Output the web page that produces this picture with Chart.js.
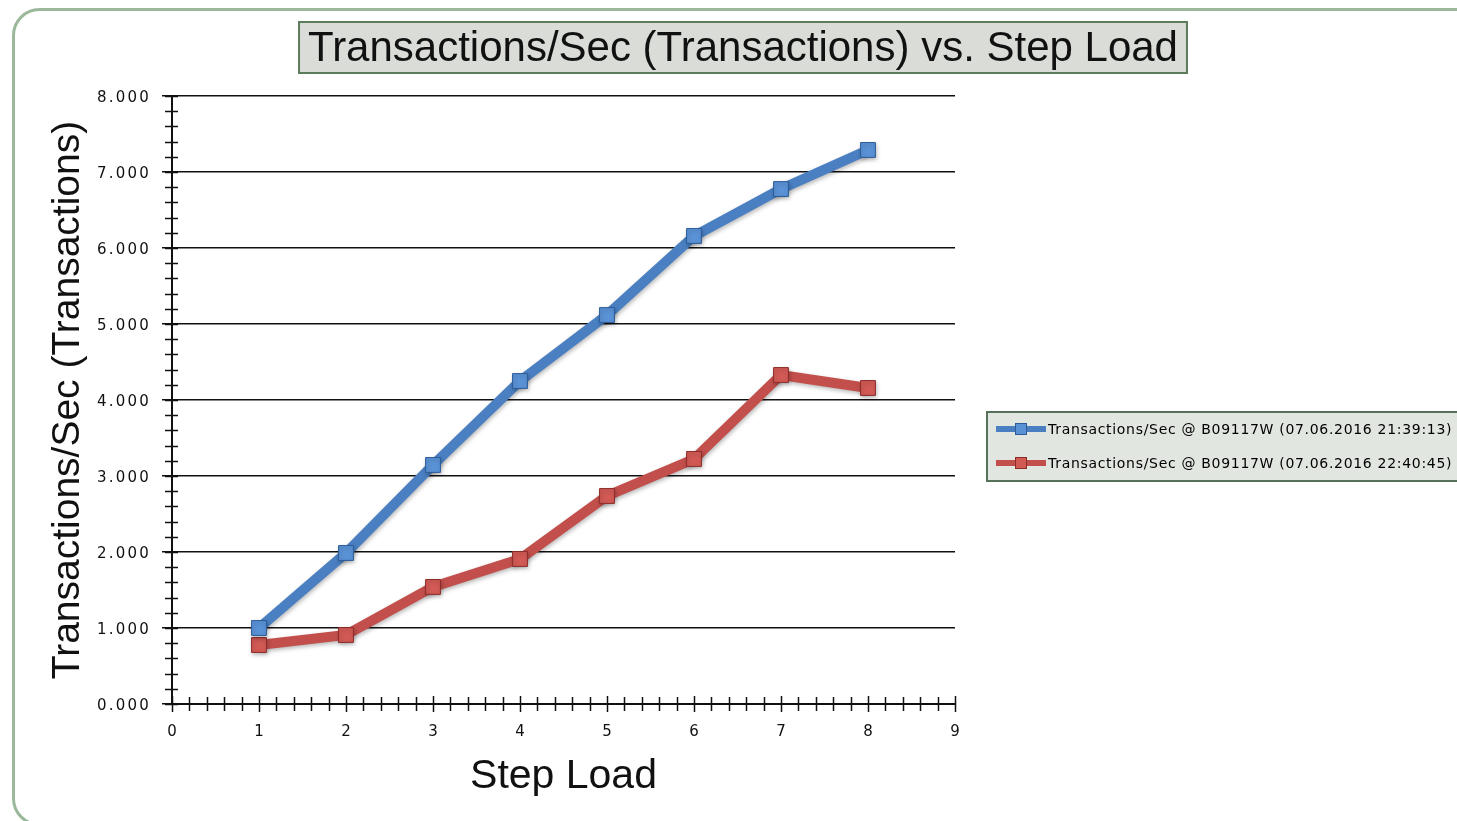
<!DOCTYPE html>
<html>
<head>
<meta charset="utf-8">
<title>Transactions/Sec vs. Step Load</title>
<script src="https://cdn.jsdelivr.net/npm/chart.js@4.4.1/dist/chart.umd.min.js"></script>
<style>
  html, body { margin: 0; padding: 0; background: #fff; overflow: hidden; }
  #wrap { width: 1457px; height: 821px; }
</style>
</head>
<body>
<div id="wrap"><canvas id="plots" width="1457" height="821"></canvas></div>
<script>
// values
const stepLoad = [1, 2, 3, 4, 5, 6, 7, 8]
const run1 = [1.000, 1.987, 3.145, 4.250, 5.118, 6.158, 6.776, 7.290]
const run2 = [0.776, 0.908, 1.540, 1.908, 2.737, 3.224, 4.329, 4.158]
const seriesNames = [
  'Transactions/Sec @ B09117W (07.06.2016 21:39:13)',
  'Transactions/Sec @ B09117W (07.06.2016 22:40:45)'
]
const yTickLabels = ['0.000', '1.000', '2.000', '3.000', '4.000', '5.000', '6.000', '7.000', '8.000']
const xTickLabels = ['0', '1', '2', '3', '4', '5', '6', '7', '8', '9']
const chartTitle = 'Transactions/Sec (Transactions) vs. Step Load'
const yTitle = 'Transactions/Sec (Transactions)'
const xTitle = 'Step Load'

const colBlue = '#4a7fc2'
const colRed = '#c24f4b'
const tickFont = '15px "DejaVu Sans", sans-serif'

function pares(valores) {
  return stepLoad.map((x, i) => ({ x: x, y: valores[i] }))
}

// texto com espaçamento largo, como no original
function textoLargo(ctx, txt, x, y, largura, alinhar) {
  ctx.letterSpacing = '0px'
  const w = ctx.measureText(txt).width
  const extra = Math.max(0, (largura - w) / txt.length)
  ctx.letterSpacing = extra.toFixed(2) + 'px'
  let x0 = x
  if (alinhar === 'right') x0 = x - largura
  if (alinhar === 'center') x0 = x - largura / 2
  ctx.textAlign = 'left'
  ctx.fillText(txt, x0, y)
  ctx.letterSpacing = '0px'
}

const fundo = {
  id: 'fundo',
  beforeDraw(chart) {
    const ctx = chart.ctx
    ctx.save()
    ctx.fillStyle = '#fff'
    ctx.fillRect(0, 0, chart.width, chart.height)
    ctx.strokeStyle = '#9cb89a'
    ctx.lineWidth = 3
    ctx.beginPath()
    ctx.roundRect(13.5, 9.5, 1480, 815, 26)
    ctx.stroke()

    ctx.font = '42px "Liberation Sans", Arial, sans-serif'
    const w = ctx.measureText(chartTitle).width
    const cx = 743
    ctx.fillStyle = '#d9dcd7'
    ctx.fillRect(cx - w / 2 - 9, 22, w + 18, 51)
    ctx.strokeStyle = '#5d7c5c'
    ctx.lineWidth = 2
    ctx.strokeRect(cx - w / 2 - 9, 22, w + 18, 51)
    ctx.fillStyle = '#111'
    ctx.textAlign = 'center'
    ctx.textBaseline = 'middle'
    ctx.fillText(chartTitle, cx, 49)
    ctx.restore()
  },
  beforeDatasetsDraw(chart) {
    const ctx = chart.ctx
    const xs = chart.scales.x
    const ys = chart.scales.y
    const ax = xs.getPixelForValue(0)
    const ay = ys.getPixelForValue(0)
    ctx.save()
    // minor + major tick marks crossing the axes
    ctx.strokeStyle = '#111'
    ctx.lineWidth = 1.5
    ctx.beginPath()
    for (let k = 0; k <= 40; k++) {
      const py = Math.round(ys.getPixelForValue(k / 5)) + 0.5
      ctx.moveTo(ax - 7, py)
      ctx.lineTo(ax + 6, py)
    }
    for (let k = 0; k <= 45; k++) {
      const px = Math.round(xs.getPixelForValue(k / 5)) + 0.5
      const big = k % 5 === 0 ? 1 : 0
      ctx.moveTo(px, ay - 7 - big)
      ctx.lineTo(px, ay + 7 + big)
    }
    ctx.stroke()
    // tick labels
    ctx.font = tickFont
    ctx.fillStyle = '#111'
    ctx.textBaseline = 'middle'
    yTickLabels.forEach((t, i) => {
      textoLargo(ctx, t, 151, ys.getPixelForValue(i) + 2, 54, 'right')
    })
    xTickLabels.forEach((t, i) => {
      ctx.textAlign = 'center'
      ctx.fillText(t, xs.getPixelForValue(i), ay + 28)
    })
    ctx.restore()
    ctx.shadowColor = 'rgba(0,0,0,0.28)'
    ctx.shadowBlur = 4
    ctx.shadowOffsetX = 1
    ctx.shadowOffsetY = 2
  },
  afterDatasetsDraw(chart) {
    const ctx = chart.ctx
    ctx.shadowColor = 'rgba(0,0,0,0)'
    ctx.shadowBlur = 0
    ctx.shadowOffsetX = 0
    ctx.shadowOffsetY = 0
  },
  afterDraw(chart) {
    // legend box
    const ctx = chart.ctx
    ctx.save()
    ctx.fillStyle = '#e2e6e0'
    ctx.fillRect(987, 412, 500, 69)
    ctx.strokeStyle = '#56725a'
    ctx.lineWidth = 2
    ctx.strokeRect(987, 412, 500, 69)
    chart.data.datasets.forEach((ds, i) => {
      const y = 429 + i * 34
      ctx.strokeStyle = ds.borderColor
      ctx.lineWidth = 6
      ctx.beginPath()
      ctx.moveTo(996, y)
      ctx.lineTo(1046, y)
      ctx.stroke()
      ctx.fillStyle = ds.pointBackgroundColor
      ctx.strokeStyle = ds.pointBorderColor
      ctx.lineWidth = 1
      ctx.fillRect(1015, y - 6, 12, 12)
      ctx.strokeRect(1015.5, y - 5.5, 11, 11)
      ctx.font = '14px "DejaVu Sans", sans-serif'
      ctx.fillStyle = '#000'
      ctx.textBaseline = 'middle'
      textoLargo(ctx, ds.label, 1048, y + 1, 404, 'left')
    })
    ctx.restore()
  }
}

const plots = document.getElementById('plots')
const chart1 = new Chart(plots, {
  type: 'line',
  data: {
    datasets: [{
      label: seriesNames[0],
      data: pares(run1),
      borderColor: colBlue,
      backgroundColor: colBlue,
      pointBackgroundColor: '#5a92d6',
      pointBorderColor: '#2c5c98',
      borderWidth: 10,
      pointStyle: 'rect',
      pointRadius: 10.5,
      pointBorderWidth: 1,
      fill: false,
    }, {
      label: seriesNames[1],
      data: pares(run2),
      borderColor: colRed,
      backgroundColor: colRed,
      pointBackgroundColor: '#d25a55',
      pointBorderColor: '#8c2c29',
      borderWidth: 10,
      pointStyle: 'rect',
      pointRadius: 10.5,
      pointBorderWidth: 1,
      fill: false,
    }]
  },
  options: {
    responsive: false,
    animation: false,
    devicePixelRatio: 1,
    layout: { padding: { left: 0, right: 502, top: 96, bottom: 0 } },
    plugins: {
      legend: { display: false },
      title: { display: false },
      tooltip: { enabled: false }
    },
    scales: {
      x: {
        type: 'linear',
        min: 0,
        max: 9,
        afterFit(scale) { scale.height = 117 },
        ticks: { display: false, stepSize: 1 },
        grid: { drawOnChartArea: false, drawTicks: false },
        border: { color: '#111', width: 2 },
        title: {
          display: true,
          text: xTitle,
          color: '#111',
          font: { family: '"Liberation Sans", Arial, sans-serif', size: 41 },
          padding: { top: 0, bottom: 20 }
        }
      },
      y: {
        min: 0,
        max: 8,
        afterFit(scale) { scale.width = 172 },
        ticks: { display: false, stepSize: 1 },
        grid: { color: '#111', lineWidth: 1.5, tickLength: 10 },
        border: { color: '#111', width: 2 },
        title: {
          display: true,
          text: yTitle,
          color: '#111',
          font: { family: '"Liberation Sans", Arial, sans-serif', size: 39 },
          padding: { top: 45, bottom: 0 }
        }
      }
    }
  },
  plugins: [fundo]
})
</script>
</body>
</html>
